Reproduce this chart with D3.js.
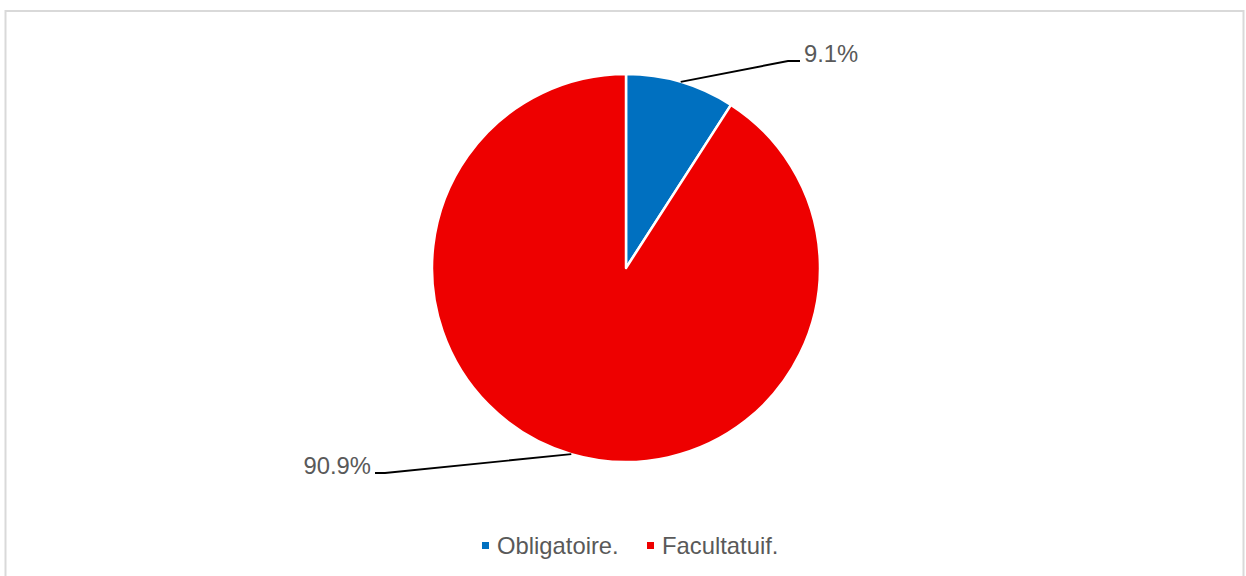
<!DOCTYPE html>
<html>
<head>
<meta charset="utf-8">
<script src="https://cdn.jsdelivr.net/npm/d3@7"></script>
<style>
  html, body { margin: 0; padding: 0; background: #fff; }
  svg { display: block; }
  text { font-family: "Liberation Sans", Arial, sans-serif; fill: #595959; }
</style>
</head>
<body>
<svg id="chart" width="1246" height="576"></svg>
<script>
// Data
const categories = ["Obligatoire.", "Facultatuif."];
const shares = [9.1, 90.9];
const labels = ["9.1%", "90.9%"];
const colors = ["#0070C0", "#EE0000"];

const W = 1246, H = 576;
const svg = d3.select("#chart");

// Chart frame
svg.append("rect")
  .attr("x", 5.5).attr("y", 11)
  .attr("width", 1238).attr("height", 580)
  .attr("fill", "#fff")
  .attr("stroke", "#d9d9d9")
  .attr("stroke-width", 2);

const cx = 626, cy = 268, R = 194;
const g = svg.append("g").attr("transform", `translate(${cx},${cy})`);

const pie = d3.pie().sort(null).value(d => d);
const arcs = pie(shares);
const arc = d3.arc().innerRadius(0).outerRadius(R);

g.selectAll("path.slice")
  .data(arcs)
  .join("path")
  .attr("class", "slice")
  .attr("d", arc)
  .attr("fill", (d, i) => colors[i])
  .attr("stroke", "#fff")
  .attr("stroke-width", 2.5)
  .attr("stroke-linejoin", "round");

// Leader lines: from slice midpoint on the rim to an elbow, then a short horizontal run
const leader = [
  { dx: 162, dy: -207, run: 12, side: 1 },
  { dx: -241, dy: 205, run: -10, side: -1 }
];

arcs.forEach((d, i) => {
  const mid = (d.startAngle + d.endAngle) / 2;
  const px = R * Math.sin(mid), py = -R * Math.cos(mid);
  const L = leader[i];
  const ex = L.dx, ey = L.dy;
  const tx = ex + L.run;
  g.append("polyline")
    .attr("points", [[px, py], [ex, ey], [tx, ey]].map(p => p.join(",")).join(" "))
    .attr("fill", "none")
    .attr("stroke", "#000")
    .attr("stroke-width", 1.9);
  g.append("text")
    .attr("x", tx + L.side * 4)
    .attr("y", ey + 1)
    .attr("text-anchor", L.side > 0 ? "start" : "end")
    .style("font-size", "23.8px")
    .text(labels[i]);
});

// Legend
const legendY = 546;
const legendX = [482, 647];
const lg = svg.append("g");
categories.forEach((c, i) => {
  lg.append("rect")
    .attr("x", legendX[i]).attr("y", legendY - 4)
    .attr("width", 7).attr("height", 7)
    .attr("fill", colors[i]);
  lg.append("text")
    .attr("x", legendX[i] + 15)
    .attr("y", legendY)
    .attr("dy", "0.35em")
    .style("font-size", "23.8px")
    .text(c);
});
</script>
</body>
</html>
